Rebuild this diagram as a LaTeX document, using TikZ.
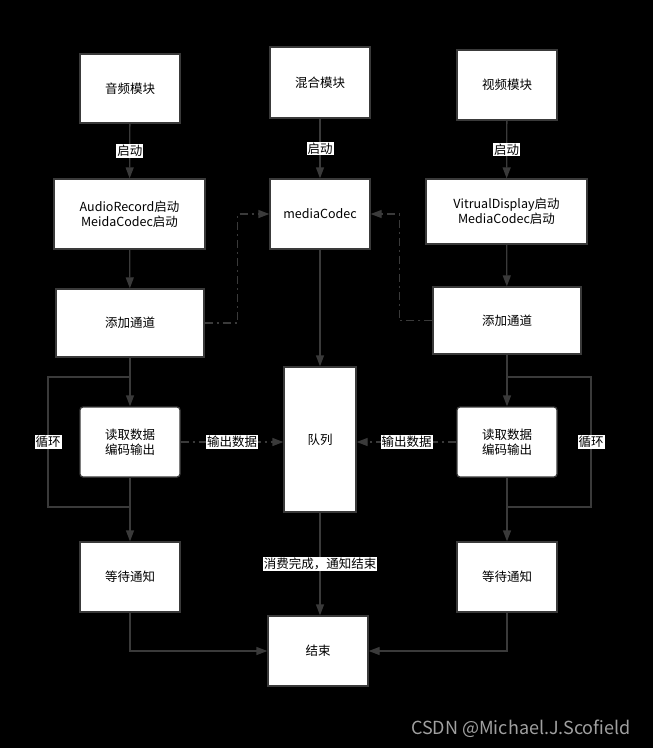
\documentclass[tikz,border=0pt]{standalone}
\usepackage{fontspec}
\setmainfont{Noto Sans CJK SC}
\usetikzlibrary{arrows.meta}
\definecolor{linegray}{HTML}{3A3A3A}
\definecolor{markgray}{HTML}{A0A0A0}
\begin{document}
\begin{tikzpicture}[x=1pt, y=-1pt,
    >={Triangle[length=11pt,width=8pt]},
    box/.style={draw=linegray, line width=1.3pt, fill=white, align=center,
      inner sep=2pt, font=\fontsize{12.5}{15}\selectfont},
    rbox/.style={box, rounded corners=3pt},
    edge/.style={->, draw=linegray, line width=1.3pt},
    dedge/.style={edge, dash pattern=on 8pt off 4pt on 2pt off 4pt},
    loopline/.style={draw=linegray, line width=1.3pt},
    lbl/.style={fill=white, text=black, inner sep=1pt, font=\fontsize{12.5}{15}\selectfont}]

  \fill[black] (0,0) rectangle (653,748);

  % audio column
  \node[box, minimum width=100pt, minimum height=69pt] (audio) at (130,88.5) {音频模块};
  \node[box, minimum width=151pt, minimum height=70pt] (arec) at (129.5,214) {AudioRecord启动\\MeidaCodec启动};
  \node[box, minimum width=148pt, minimum height=68pt] (achan) at (130,323) {添加通道};
  \node[rbox, minimum width=100pt, minimum height=70pt] (aread) at (130,442) {读取数据\\编码输出};
  \node[box, minimum width=100pt, minimum height=70pt] (await) at (130,577) {等待通知};

  % mux column
  \node[box, minimum width=100pt, minimum height=71pt] (mux) at (320,82.5) {混合模块};
  \node[box, minimum width=100pt, minimum height=70pt] (codec) at (320,214) {mediaCodec};
  \node[box, minimum width=72pt, minimum height=145pt] (queue) at (320,439.5) {队列};
  \node[box, minimum width=100pt, minimum height=70pt] (end) at (318,651) {结束};

  % video column
  \node[box, minimum width=100pt, minimum height=70pt] (video) at (507,85) {视频模块};
  \node[box, minimum width=161pt, minimum height=65pt] (vdisp) at (506.5,211.5) {VitrualDisplay启动\\MediaCodec启动};
  \node[box, minimum width=148pt, minimum height=67pt] (vchan) at (507,320.5) {添加通道};
  \node[rbox, minimum width=100pt, minimum height=70pt] (vread) at (507,442) {读取数据\\编码输出};
  \node[box, minimum width=100pt, minimum height=70pt] (vwait) at (507,577) {等待通知};

  \coordinate (aloopt) at (130,377);
  \coordinate (aloopb) at (130,507);
  \coordinate (vloopt) at (507,377);
  \coordinate (vloopb) at (507,507);

  \draw[edge] (audio) -- node[lbl] {启动} (arec);
  \draw[edge] (mux) -- node[lbl] {启动} (codec);
  \draw[edge] (video) -- node[lbl] {启动} (vdisp);
  \draw[edge] (arec) -- (achan);
  \draw[edge] (vdisp) -- (vchan);
  \draw[dedge] (achan.east) -- ++(33,0) |- (codec.west);
  \draw[dedge] (vchan.west) -- ++(-33,0) |- (codec.east);
  \draw[edge] (codec) -- (codec |- queue.north);
  \draw[edge] (achan) -- (aread);
  \draw[edge] (vchan) -- (vread);
  \draw[loopline] (aloopb) -- ++(-82,0) -- node[lbl] {循环} ++(0,-130) -- (aloopt);
  \draw[loopline] (vloopb) -- ++(84,0) -- node[lbl] {循环} ++(0,-130) -- (vloopt);
  \draw[edge] (aread) -- (await);
  \draw[edge] (vread) -- (vwait);
  \draw[dedge] (aread) -- node[lbl] {输出数据} (aread -| queue.west);
  \draw[dedge] (vread) -- node[lbl] {输出数据} (vread -| queue.east);
  \draw[edge] (queue.south) -- node[lbl] {消费完成，通知结束} (queue.south |- end.north);
  \draw[edge] (await) |- (end);
  \draw[edge] (vwait) |- (end);

  \node[text=markgray, font=\fontsize{18}{21}\selectfont] (mark) at (521,729) {CSDN @Michael.J.Scofield};
\end{tikzpicture}
\end{document}
